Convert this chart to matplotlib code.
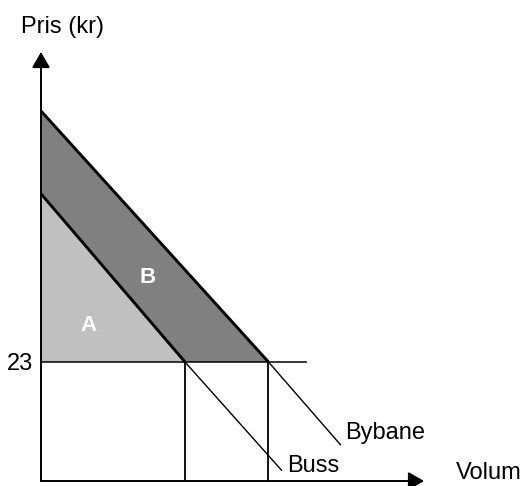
import matplotlib.pyplot as plt

plt.rcParams["font.family"] = ["Liberation Sans", "DejaVu Sans"]

# demand curves (volume, price)
buss_q = [0, 100, 167]
buss_p = [55.5, 23, 2.1]
bybane_q = [0, 158, 208]
bybane_p = [71.5, 23, 7.0]

price = 23
price_line_end = 184
x_max = 266
y_max = 82.9

fig = plt.figure(figsize=(5.26, 4.86), dpi=100)
ax = fig.add_axes([41 / 526, 5 / 486, 383 / 526, 429 / 486])
ax.set_xlim(0, x_max)
ax.set_ylim(0, y_max)
ax.axis("off")

# area A (light) and B (dark)
ax.fill([0, 0, buss_q[1]], [price, buss_p[0], price], color="#c0c0c0", lw=0)
ax.fill([0, 0, bybane_q[1], buss_q[1]], [buss_p[0], bybane_p[0], price, price],
        color="#808080", lw=0)

# price line and volume drop lines
ax.plot([0, price_line_end], [price, price], color="black", lw=1.1)
ax.plot([buss_q[1], buss_q[1]], [0, price], color="black", lw=1.3)
ax.plot([bybane_q[1], bybane_q[1]], [0, price], color="black", lw=1.3)

# demand curves: bold above the price, thin below
ax.plot(buss_q[:2], buss_p[:2], color="black", lw=2.1, solid_capstyle="butt")
ax.plot(buss_q[1:], buss_p[1:], color="black", lw=1.0)
ax.plot(bybane_q[:2], bybane_p[:2], color="black", lw=2.1, solid_capstyle="butt")
ax.plot(bybane_q[1:], bybane_p[1:], color="black", lw=1.0)

# axes with arrows
arrow = dict(arrowstyle="-|>,head_length=0.95,head_width=0.55", mutation_scale=10,
             color="black", lw=1.4, shrinkA=0, shrinkB=0)
ax.annotate("", xy=(0, y_max), xytext=(0, 0), arrowprops=arrow, annotation_clip=False)
ax.annotate("", xy=(x_max, 0), xytext=(0, 0), arrowprops=arrow, annotation_clip=False)

fs = 17
ax.text(-14.1, 86.6, "Pris (kr)", fontsize=fs, va="baseline", clip_on=False)
ax.text(288.2, -0.6, "Volum", fontsize=fs, va="bottom", clip_on=False)
ax.text(-5.6, 21.5, "23", fontsize=fs, ha="right", va="baseline", clip_on=False)
ax.text(170.8, 1.8, "Buss", fontsize=fs, va="baseline")
ax.text(211.1, 8.1, "Bybane", fontsize=fs, va="baseline")
ax.text(32.8, 29.0, "A", fontsize=16, weight="bold", color="white", ha="center", va="baseline")
ax.text(73.8, 38.2, "B", fontsize=16, weight="bold", color="white", ha="center", va="baseline")

fig.savefig("out.png", dpi=100)
